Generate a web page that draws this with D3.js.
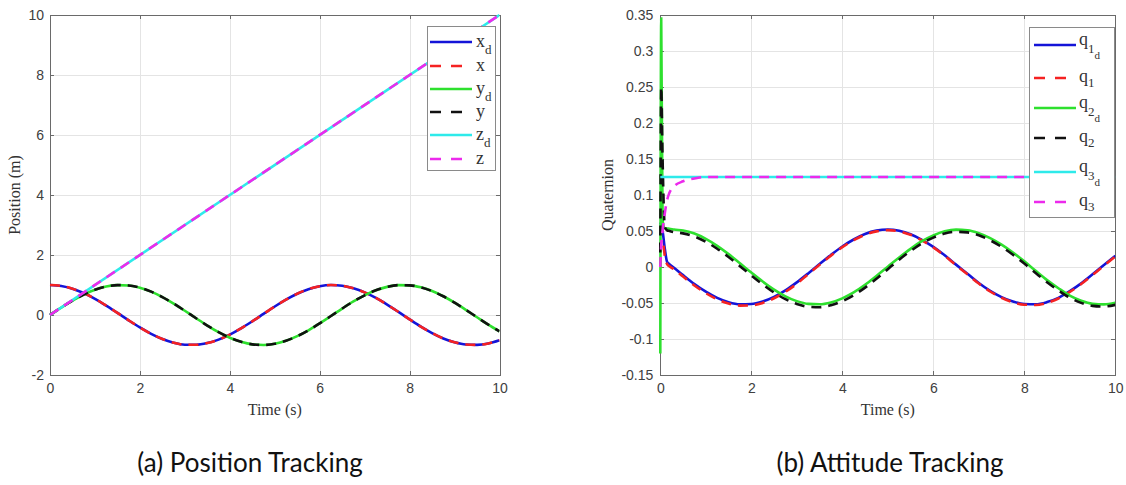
<!DOCTYPE html>
<html>
<head>
<meta charset="utf-8">
<script src="https://cdn.jsdelivr.net/npm/d3@7"></script>
<style>
  body { margin: 0; background: #fff; }
  svg { display: block; }
</style>
</head>
<body>
<svg id="chart" width="1126" height="485"></svg>
<script>
// ---------- (a) Position tracking: time (s) and position (m) ----------
const posTime = [0, 0.25, 0.5, 0.75, 1, 1.25, 1.5, 1.75, 2, 2.25, 2.5, 2.75, 3, 3.25, 3.5, 3.75, 4, 4.25, 4.5, 4.75,
  5, 5.25, 5.5, 5.75, 6, 6.25, 6.5, 6.75, 7, 7.25, 7.5, 7.75, 8, 8.25, 8.5, 8.75, 9, 9.25, 9.5, 9.75, 10];
const xDesired = [1.000, 0.969, 0.878, 0.732, 0.540, 0.315, 0.071, -0.178, -0.416, -0.628, -0.801, -0.924, -0.990, -0.994,
  -0.936, -0.820, -0.654, -0.446, -0.211, 0.037, 0.284, 0.512, 0.709, 0.861, 0.960, 1.000, 0.977, 0.893, 0.754, 0.568,
  0.347, 0.105, -0.146, -0.388, -0.602, -0.783, -0.911, -0.985, -0.997, -0.948, -0.839];
const xActual = [1.000, 0.969, 0.878, 0.732, 0.540, 0.315, 0.071, -0.178, -0.416, -0.628, -0.801, -0.924, -0.990, -0.994,
  -0.936, -0.820, -0.654, -0.446, -0.211, 0.037, 0.284, 0.512, 0.709, 0.861, 0.960, 1.000, 0.977, 0.893, 0.754, 0.568,
  0.347, 0.105, -0.146, -0.388, -0.602, -0.783, -0.911, -0.985, -0.997, -0.948, -0.839];
const yDesired = [0.000, 0.247, 0.479, 0.682, 0.841, 0.949, 0.997, 0.984, 0.909, 0.778, 0.598, 0.382, 0.141, -0.108,
  -0.351, -0.572, -0.757, -0.895, -0.978, -0.999, -0.959, -0.859, -0.706, -0.510, -0.279, -0.033, 0.215, 0.451, 0.657,
  0.823, 0.938, 0.995, 0.989, 0.923, 0.798, 0.625, 0.412, 0.173, -0.075, -0.319, -0.544];
const yActual = [0.000, 0.247, 0.479, 0.682, 0.841, 0.949, 0.997, 0.984, 0.909, 0.778, 0.598, 0.382, 0.141, -0.108,
  -0.351, -0.572, -0.757, -0.895, -0.978, -0.999, -0.959, -0.859, -0.706, -0.510, -0.279, -0.033, 0.215, 0.451, 0.657,
  0.823, 0.938, 0.995, 0.989, 0.923, 0.798, 0.625, 0.412, 0.173, -0.075, -0.319, -0.544];
const zTime = [0, 10];
const zDesired = [0, 10];
const zActual = [0, 10];
const posXTicks = [0, 2, 4, 6, 8, 10];
const posYTicks = [-2, 0, 2, 4, 6, 8, 10];

// ---------- (b) Attitude tracking: time (s) and quaternion components ----------
const attTime = [0, 0.02, 0.05, 0.1, 0.15, 0.2, 0.3, 0.5, 0.75, 1, 1.25, 1.5, 1.75, 2, 2.25, 2.5, 2.75, 3, 3.25, 3.5,
  3.75, 4, 4.25, 4.5, 4.75, 5, 5.25, 5.5, 5.75, 6, 6.25, 6.5, 6.75, 7, 7.25, 7.5, 7.75, 8, 8.25, 8.5, 8.75, 9, 9.25,
  9.5, 9.75, 10];
const q1Desired = [0.062, 0.058, 0.050, 0.025, 0.007, 0.004, -0.001, -0.0113, -0.0236, -0.0343, -0.0429, -0.0488,
  -0.0517, -0.0514, -0.0479, -0.0414, -0.0324, -0.0213, -0.0089, 0.0041, 0.0168, 0.0285, 0.0382, 0.0458, 0.0505,
  0.0520, 0.0503, 0.0455, 0.0378, 0.0280, 0.0163, 0.0033, -0.0094, -0.0222, -0.0331, -0.0418, -0.0480, -0.0514,
  -0.0517, -0.0487, -0.0428, -0.0336, -0.0227, -0.0102, 0.0028, 0.0155];
const q1Actual = [0.000, 0.035, 0.038, 0.015, 0.004, 0.001, -0.003, -0.0133, -0.0256, -0.0363, -0.0449, -0.0508,
  -0.0537, -0.0534, -0.0499, -0.0434, -0.0344, -0.0233, -0.0099, 0.0031, 0.0158, 0.0275, 0.0372, 0.0448, 0.0495,
  0.0512, 0.0495, 0.0447, 0.0370, 0.0272, 0.0155, 0.0025, -0.0102, -0.0230, -0.0340, -0.0427, -0.0490, -0.0524,
  -0.0527, -0.0497, -0.0438, -0.0346, -0.0237, -0.0112, 0.0018, 0.0145];
const q2Desired = [-0.120, 0.345, 0.065, 0.054, 0.0535, 0.0532, 0.0520, 0.0507, 0.0464, 0.0391, 0.0294, 0.0179,
  0.0052, -0.0077, -0.0202, -0.0315, -0.0407, -0.0474, -0.0512, -0.0518, -0.0492, -0.0435, -0.0353, -0.0247, -0.0124,
  0.0004, 0.0132, 0.0252, 0.0358, 0.0438, 0.0495, 0.0519, 0.0511, 0.0470, 0.0401, 0.0310, 0.0201, 0.0079, -0.0053,
  -0.0182, -0.0295, -0.0397, -0.0468, -0.0510, -0.0519, -0.0496];
const q2Actual = [0.020, 0.250, 0.150, 0.055, 0.051, 0.050, 0.0485, 0.0467, 0.0424, 0.0351, 0.0254, 0.0139, 0.0012,
  -0.0117, -0.0242, -0.0355, -0.0447, -0.0514, -0.0552, -0.0558, -0.0532, -0.0475, -0.0393, -0.0287, -0.0164, -0.0030,
  0.0102, 0.0222, 0.0328, 0.0408, 0.0465, 0.0489, 0.0481, 0.0440, 0.0371, 0.0280, 0.0171, 0.0049, -0.0083, -0.0212,
  -0.0325, -0.0427, -0.0498, -0.0540, -0.0549, -0.0526];
const q3Desired = [0.125, 0.125, 0.125, 0.125, 0.125, 0.125, 0.125, 0.125, 0.125, 0.125, 0.125, 0.125, 0.125, 0.125,
  0.125, 0.125, 0.125, 0.125, 0.125, 0.125, 0.125, 0.125, 0.125, 0.125, 0.125, 0.125, 0.125, 0.125, 0.125, 0.125,
  0.125, 0.125, 0.125, 0.125, 0.125, 0.125, 0.125, 0.125, 0.125, 0.125, 0.125, 0.125, 0.125, 0.125, 0.125, 0.125];
const q3Actual = [0.000, 0.030, 0.050, 0.075, 0.093, 0.103, 0.112, 0.119, 0.123, 0.125, 0.125, 0.125, 0.125, 0.125,
  0.125, 0.125, 0.125, 0.125, 0.125, 0.125, 0.125, 0.125, 0.125, 0.125, 0.125, 0.125, 0.125, 0.125, 0.125, 0.125,
  0.125, 0.125, 0.125, 0.125, 0.125, 0.125, 0.125, 0.125, 0.125, 0.125, 0.125, 0.125, 0.125, 0.125, 0.125, 0.125];
const attXTicks = [0, 2, 4, 6, 8, 10];
const attYTicks = [-0.15, -0.1, -0.05, 0, 0.05, 0.1, 0.15, 0.2, 0.25, 0.3, 0.35];

// ---------- styling ----------
const COLORS = { b: "#1414d8", r: "#f52222", g: "#2ee02e", k: "#111111", c: "#2eeaea", m: "#ec2aec" };
const DASH_PLOT = "10,7";
const DASH_KEY = "11,10";
const LINE_W = 2.6;
const TICK_FONT = "'Liberation Sans', Arial, sans-serif";
const SERIF = "'Liberation Serif', 'Times New Roman', serif";

const svg = d3.select("#chart");
const PLOT_TOP = 15, PLOT_BOTTOM = 375;

function fmt(v) { return String(+v.toFixed(2)); }

function drawPanel(cfg) {
  const g = svg.append("g");
  const x = d3.scaleLinear().domain([0, 10]).range([cfg.left, cfg.right]);
  const y = d3.scaleLinear().domain(cfg.yDomain).range([PLOT_BOTTOM, PLOT_TOP]);
  const h = PLOT_BOTTOM - PLOT_TOP, w = cfg.right - cfg.left;

  // grid
  const grid = g.append("g").attr("class", "grid");
  grid.append("g").attr("transform", `translate(0,${PLOT_BOTTOM})`)
    .call(d3.axisBottom(x).tickValues(cfg.xTicks).tickSize(-h).tickFormat(""));
  grid.append("g").attr("transform", `translate(${cfg.left},0)`)
    .call(d3.axisLeft(y).tickValues(cfg.yTicks).tickSize(-w).tickFormat(""));
  grid.selectAll(".domain").remove();
  grid.selectAll("line").attr("stroke", "#e4e4e4").attr("stroke-width", 1).attr("shape-rendering", "crispEdges");

  // axes: box with inward ticks on all four sides
  const axStyle = sel => {
    sel.attr("font-family", TICK_FONT).attr("font-size", 14);
    sel.select(".domain").attr("stroke", "#6a6a6a").attr("stroke-width", 1).attr("shape-rendering", "crispEdges");
    sel.selectAll(".tick line").attr("stroke", "#6a6a6a").attr("shape-rendering", "crispEdges");
    sel.selectAll("text").attr("fill", "#404040");
  };
  g.append("g").attr("transform", `translate(0,${PLOT_BOTTOM})`)
    .call(d3.axisBottom(x).tickValues(cfg.xTicks).tickSizeInner(-4).tickSizeOuter(0).tickPadding(8).tickFormat(fmt))
    .call(axStyle);
  g.append("g").attr("transform", `translate(0,${PLOT_TOP})`)
    .call(d3.axisTop(x).tickValues(cfg.xTicks).tickSizeInner(-4).tickSizeOuter(0).tickFormat(""))
    .call(axStyle);
  g.append("g").attr("transform", `translate(${cfg.left},0)`)
    .call(d3.axisLeft(y).tickValues(cfg.yTicks).tickSizeInner(-4).tickSizeOuter(0).tickPadding(cfg.yPad).tickFormat(fmt))
    .call(axStyle);
  g.append("g").attr("transform", `translate(${cfg.right},0)`)
    .call(d3.axisRight(y).tickValues(cfg.yTicks).tickSizeInner(-4).tickSizeOuter(0).tickFormat(""))
    .call(axStyle);

  // data lines, drawn over the frame (clip lets strokes sitting on the frame stay visible)
  const clipId = "clip-" + cfg.id;
  svg.append("clipPath").attr("id", clipId).append("rect")
    .attr("x", cfg.left - 2).attr("y", PLOT_TOP - 2).attr("width", w + 2).attr("height", h + 2);
  const lineGen = d3.line().x(d => x(d[0])).y(d => y(d[1])).curve(d3.curveMonotoneX);
  const lines = g.append("g").attr("clip-path", `url(#${clipId})`);
  cfg.series.forEach(s => {
    const pts = s.t.map((t, i) => [t, s.v[i]]);
    lines.append("path").datum(pts)
      .attr("d", lineGen)
      .attr("fill", "none")
      .attr("stroke", s.color)
      .attr("stroke-width", LINE_W)
      .attr("stroke-dasharray", s.dashed ? DASH_PLOT : null);
  });

  // axis titles
  g.append("text").attr("x", (cfg.left + cfg.right) / 2).attr("y", 415)
    .attr("text-anchor", "middle").attr("font-family", SERIF).attr("font-size", 16).attr("fill", "#333")
    .text(cfg.xLabel);
  g.append("text").attr("transform", `translate(${cfg.yLabelX},${(PLOT_TOP + PLOT_BOTTOM) / 2}) rotate(-90)`)
    .attr("text-anchor", "middle").attr("font-family", SERIF).attr("font-size", 16).attr("fill", "#333")
    .text(cfg.yLabel);

  // legend
  const L = cfg.legend;
  const lg = g.append("g");
  lg.append("rect").attr("x", L.x).attr("y", L.y).attr("width", L.w).attr("height", L.h)
    .attr("fill", "#fff").attr("stroke", "#8a8a8a").attr("stroke-width", 1).attr("shape-rendering", "crispEdges");
  cfg.series.forEach((s, i) => {
    const rowY = L.rows[i];
    lg.append("line").attr("x1", L.lineX1).attr("x2", L.lineX2).attr("y1", rowY).attr("y2", rowY)
      .attr("stroke", s.color).attr("stroke-width", LINE_W)
      .attr("stroke-dasharray", s.dashed ? DASH_KEY : null);
    const parts = s.label;
    const t = lg.append("text").attr("x", L.textX).attr("y", rowY + parts.base)
      .attr("font-family", SERIF).attr("fill", "#333");
    t.append("tspan").attr("font-size", 18).text(parts.main);
    (parts.subs || []).forEach(sb => {
      t.append("tspan").attr("font-size", sb.size).attr("dy", sb.dy).text(sb.text);
    });
  });

  // caption
  svg.append("text").attr("x", cfg.captionX).attr("y", 472).attr("text-anchor", "middle")
    .attr("font-family", "Lato, 'Open Sans', sans-serif").attr("font-size", 26).attr("fill", "#111")
    .text(cfg.caption);
}

drawPanel({
  id: "pos", left: 50, right: 499.5, yDomain: [-2, 10],
  xTicks: posXTicks, yTicks: posYTicks, yPad: 6,
  xLabel: "Time (s)", yLabel: "Position (m)", yLabelX: 20,
  caption: "(a) Position Tracking", captionX: 250,
  series: [
    { t: posTime, v: xDesired, color: COLORS.b, dashed: false, label: { main: "x", base: 4.5, subs: [{ text: "d", size: 13, dy: 7 }] } },
    { t: posTime, v: xActual, color: COLORS.r, dashed: true, label: { main: "x", base: 4.5 } },
    { t: posTime, v: yDesired, color: COLORS.g, dashed: false, label: { main: "y", base: 4.5, subs: [{ text: "d", size: 13, dy: 7 }] } },
    { t: posTime, v: yActual, color: COLORS.k, dashed: true, label: { main: "y", base: 4.5 } },
    { t: zTime, v: zDesired, color: COLORS.c, dashed: false, label: { main: "z", base: 4.5, subs: [{ text: "d", size: 13, dy: 7 }] } },
    { t: zTime, v: zActual, color: COLORS.m, dashed: true, label: { main: "z", base: 4.5 } }
  ],
  legend: { x: 427, y: 26, w: 68, h: 144, lineX1: 430, lineX2: 472, textX: 476,
            rows: [42, 66, 89, 112, 135, 159] }
});

drawPanel({
  id: "att", left: 660.3, right: 1115.3, yDomain: [-0.15, 0.35],
  xTicks: attXTicks, yTicks: attYTicks, yPad: 7,
  xLabel: "Time (s)", yLabel: "Quaternion", yLabelX: 613,
  caption: "(b) Attitude Tracking", captionX: 890,
  series: [
    { t: attTime, v: q1Desired, color: COLORS.b, dashed: false,
      label: { main: "q", base: 0, subs: [{ text: "1", size: 13, dy: 8 }, { text: "d", size: 11, dy: 6 }] } },
    { t: attTime, v: q1Actual, color: COLORS.r, dashed: true,
      label: { main: "q", base: 4, subs: [{ text: "1", size: 13, dy: 5 }] } },
    { t: attTime, v: q2Desired, color: COLORS.g, dashed: false,
      label: { main: "q", base: 0, subs: [{ text: "2", size: 13, dy: 8 }, { text: "d", size: 11, dy: 6 }] } },
    { t: attTime, v: q2Actual, color: COLORS.k, dashed: true,
      label: { main: "q", base: 4, subs: [{ text: "2", size: 13, dy: 5 }] } },
    { t: attTime, v: q3Desired, color: COLORS.c, dashed: false,
      label: { main: "q", base: 0, subs: [{ text: "3", size: 13, dy: 8 }, { text: "d", size: 11, dy: 6 }] } },
    { t: attTime, v: q3Actual, color: COLORS.m, dashed: true,
      label: { main: "q", base: 4, subs: [{ text: "3", size: 13, dy: 5 }] } }
  ],
  legend: { x: 1029, y: 27, w: 85, h: 190, lineX1: 1034, lineX2: 1076, textX: 1079,
            rows: [45, 78, 108, 138, 172, 202] }
});
</script>
</body>
</html>
